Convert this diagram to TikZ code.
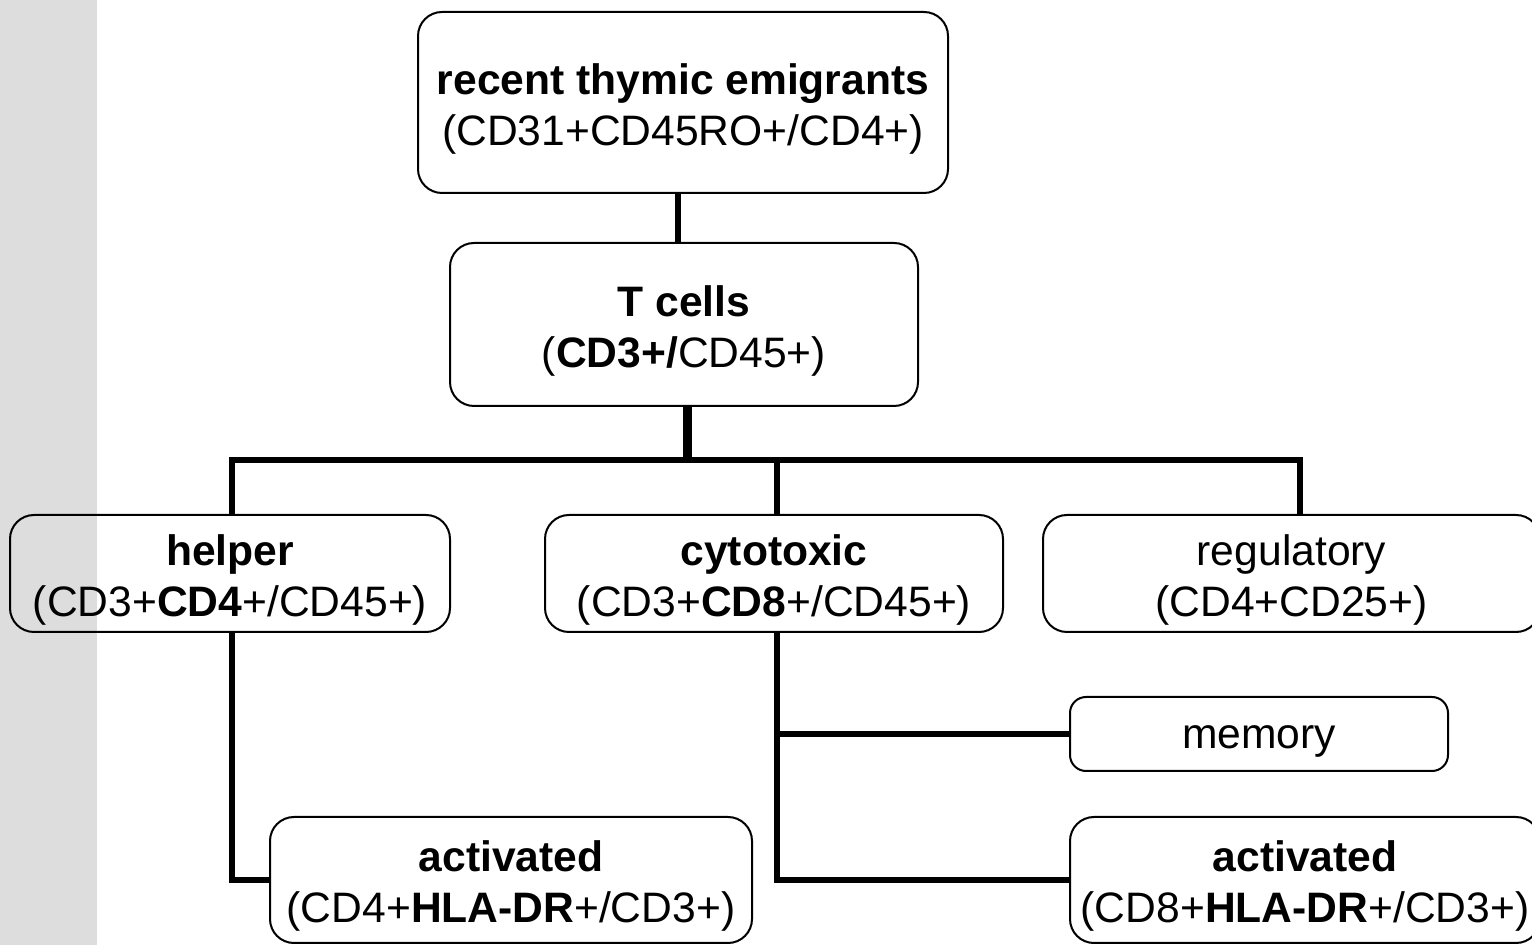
\documentclass[tikz,border=0pt]{standalone}
\usepackage{fontspec}
\setmainfont{Liberation Sans}
\definecolor{band}{HTML}{DDDDDD}
\newcommand\toppad{\rule{0pt}{21.5pt}}
\begin{document}
\begin{tikzpicture}[x=0.5pt,y=-0.5pt,
  box/.style={draw=black, line width=1pt, rounded corners=12pt, inner sep=0pt,
    align=center, font=\fontsize{21.3}{25.5}\selectfont},
  conn/.style={draw=black, line width=2.75pt, line join=miter},
  thickconn/.style={draw=black, line width=4.5pt}]
\useasboundingbox (0,0) rectangle (1532,945);
\fill[band] (0,0) rectangle (97,945);
\node[box, minimum width=265pt, minimum height=90.5pt] (rte) at (683,102.5)
  {\toppad\textbf{recent thymic emigrants}\\(CD31+CD45RO+/CD4+)};
\node[box, minimum width=234pt, minimum height=81.5pt] (tc) at (684,324.5)
  {\toppad\textbf{T cells}\\(\textbf{CD3+/}CD45+)};
\node[box, minimum width=220pt, minimum height=58.5pt] (helper) at (230,573.5)
  {\toppad\textbf{helper}\\(CD3+\textbf{CD4}+/CD45+)};
\node[box, minimum width=229pt, minimum height=58.5pt] (cyto) at (774,573.5)
  {\toppad\textbf{cytotoxic}\\(CD3+\textbf{CD8}+/CD45+)};
\node[box, minimum width=248.5pt, minimum height=58.5pt] (reg) at (1291.5,573.5)
  {\toppad regulatory\\(CD4+CD25+)};
\node[box, rounded corners=8pt, minimum width=189pt, minimum height=37pt] (mem) at (1259,734)
  {\rule{0pt}{19pt}memory};
\node[box, minimum width=241pt, minimum height=63pt] (act1) at (511,880)
  {\toppad\textbf{activated}\\(CD4+\textbf{HLA-DR}+/CD3+)};
\node[box, minimum width=235pt, minimum height=63pt] (act2) at (1305,880)
  {\toppad\textbf{activated}\\(CD8+\textbf{HLA-DR}+/CD3+)};
\coordinate (j) at (687,460);
\draw[conn] ([xshift=-2.5pt]rte.south) -- ([xshift=-3pt]tc.north);
\draw[thickconn] ([xshift=1.5pt]tc.south) -- (j);
\draw[conn] ([xshift=1pt]helper.north) |- (j) -| ([xshift=4.25pt]reg.north);
\draw[conn] ([xshift=1.5pt]cyto.north) -- ([xshift=1.5pt]cyto.north |- j);
\draw[conn] ([xshift=1pt]helper.south) |- (act1.west);
\draw[conn] ([xshift=1.5pt]cyto.south) |- (act2.west);
\draw[conn] ([xshift=1.5pt]cyto.south |- mem.west) -- (mem.west);
\end{tikzpicture}
\end{document}
